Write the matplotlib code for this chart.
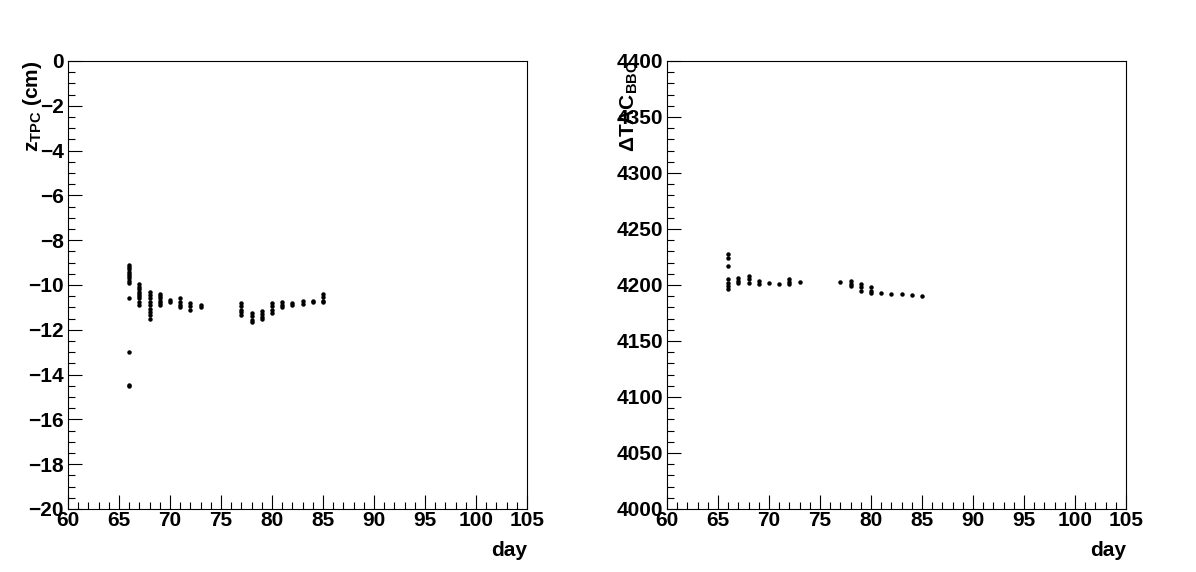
import matplotlib
matplotlib.use("Agg")
import matplotlib.pyplot as plt
from matplotlib.ticker import MultipleLocator

plt.rcParams['font.family'] = ['Liberation Sans', 'DejaVu Sans']
plt.rcParams['font.weight'] = 'bold'
plt.rcParams['mathtext.fontset'] = 'custom'
plt.rcParams['mathtext.rm'] = 'Liberation Sans:bold'
plt.rcParams['mathtext.it'] = 'Liberation Sans:bold'
plt.rcParams['mathtext.bf'] = 'Liberation Sans:bold'
plt.rcParams['mathtext.sf'] = 'Liberation Sans:bold'
plt.rcParams['mathtext.default'] = 'rm'
plt.rcParams['axes.unicode_minus'] = True

# ---------------- data ----------------
day_z = ([66]*13 + [67]*9 + [68]*9 + [69]*6 + [70]*2 + [71]*4 + [72]*3 + [73]*2 +
         [77]*5 + [78]*4 + [79]*4 + [80]*4 + [81]*3 + [82]*2 + [83]*2 + [84]*2 + [85]*4)
z_tpc = [-9.1, -9.2, -9.3, -9.4, -9.5, -9.6, -9.7, -9.8, -9.9, -10.6, -13.0, -14.45, -14.5,
         -9.95, -10.1, -10.2, -10.3, -10.4, -10.5, -10.6, -10.75, -10.9,
         -10.3, -10.45, -10.6, -10.75, -10.9, -11.05, -11.2, -11.35, -11.5,
         -10.4, -10.5, -10.6, -10.7, -10.8, -10.9,
         -10.65, -10.75,
         -10.6, -10.75, -10.9, -11.0,
         -10.8, -10.95, -11.1,
         -10.9, -11.0,
         -10.8, -10.95, -11.1, -11.2, -11.35,
         -11.25, -11.4, -11.55, -11.65,
         -11.15, -11.3, -11.45, -11.5,
         -10.8, -10.95, -11.1, -11.25,
         -10.75, -10.9, -11.0,
         -10.8, -10.9,
         -10.7, -10.85,
         -10.7, -10.75,
         -10.4, -10.55, -10.7, -10.75]

day_tac = ([66]*7 + [67]*3 + [68]*3 + [69]*2 + [70] + [71] + [72]*3 + [73] +
           [77] + [78]*3 + [79]*3 + [80]*3 + [81] + [82] + [83] + [84] + [85])
tac_bbc = [4228, 4224, 4217, 4205, 4202, 4199, 4196,
           4206, 4204, 4202,
           4208, 4205, 4202,
           4204, 4201,
           4202,
           4201,
           4205, 4203, 4201,
           4203,
           4203,
           4204, 4201, 4199,
           4201, 4198, 4195,
           4198, 4195, 4193,
           4193,
           4192,
           4192,
           4191,
           4190]

x_range = (60, 105)
z_range = (-20, 0)
tac_range = (4000, 4400)

# ---------------- figure ----------------
W, H = 1196, 572
fig = plt.figure(figsize=(W/100, H/100), dpi=100)
fig.patch.set_facecolor('white')

def px_axes(x0, y0, x1, y1):
    return fig.add_axes([x0/W, 1 - y1/H, (x1-x0)/W, (y1-y0)/H])

ax1 = px_axes(68, 61, 527, 509)
ax2 = px_axes(667, 61, 1126, 509)

FS = 15

def style(ax, ymaj, ymin):
    ax.set_xlim(*x_range)
    ax.xaxis.set_major_locator(MultipleLocator(5))
    ax.xaxis.set_minor_locator(MultipleLocator(1))
    ax.yaxis.set_major_locator(MultipleLocator(ymaj))
    ax.yaxis.set_minor_locator(MultipleLocator(ymin))
    ax.tick_params(which='both', direction='in', top=False, right=False,
                   labelsize=FS, width=0.8)
    ax.tick_params(axis='x', which='major', pad=1.5)
    ax.tick_params(axis='y', which='major', pad=3)
    ax.tick_params(which='major', length=10)
    ax.tick_params(which='minor', length=5)
    for s in ax.spines.values():
        s.set_linewidth(0.8)
    for lab in ax.get_xticklabels() + ax.get_yticklabels():
        lab.set_fontweight('bold')

ax1.plot(day_z, z_tpc, linestyle='none', marker='o', markersize=2.2, color='black')
ax1.set_ylim(*z_range)
style(ax1, 2, 0.5)

ax2.plot(day_tac, tac_bbc, linestyle='none', marker='o', markersize=2.2, color='black')
ax2.set_ylim(*tac_range)
style(ax2, 50, 10)

fig.text(527/W, 1 - 551/H, 'day', ha='right', va='center', fontsize=FS, fontweight='bold')
fig.text(1126/W, 1 - 551/H, 'day', ha='right', va='center', fontsize=FS, fontweight='bold')
fig.text(33/W, 1 - 61/H, r'z$_{TPC}$ (cm)', ha='center', va='top', rotation=90,
         fontsize=FS, fontweight='bold')
fig.text(629/W, 1 - 61/H, r'$\Delta$TAC$_{BBC}$', ha='center', va='top', rotation=90,
         fontsize=FS, fontweight='bold')

fig.savefig('out.png', dpi=100, facecolor='white')
